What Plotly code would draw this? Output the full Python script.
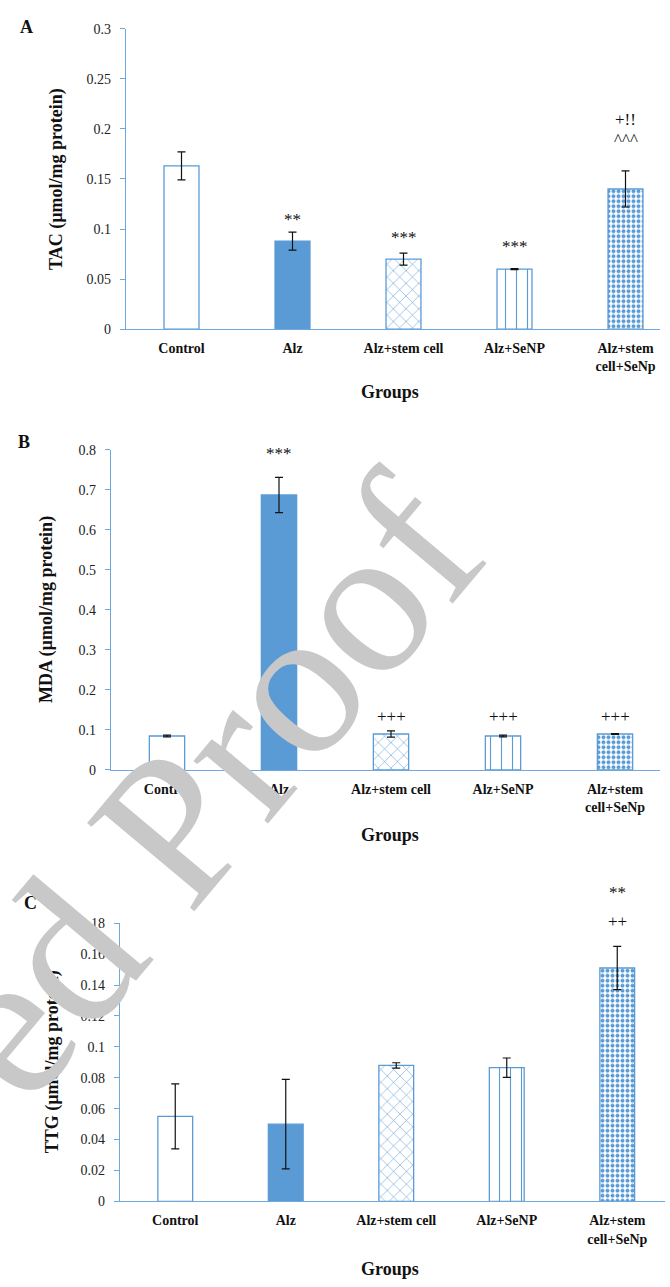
import plotly.graph_objects as go

# ---------------- data ----------------
categories = ["Control", "Alz", "Alz+stem cell", "Alz+SeNP", "Alz+stem<br>cell+SeNp"]

tac_values = [0.163, 0.088, 0.070, 0.060, 0.140]
tac_errors = [0.014, 0.009, 0.006, 0.0005, 0.018]

mda_values = [0.085, 0.687, 0.090, 0.085, 0.090]
mda_errors = [0.002, 0.044, 0.008, 0.002, 0.001]

ttg_values = [0.055, 0.050, 0.088, 0.0865, 0.151]
ttg_errors = [0.021, 0.029, 0.0017, 0.0063, 0.014]

tac_ticks = [0, 0.05, 0.1, 0.15, 0.2, 0.25, 0.3]
mda_ticks = [0, 0.1, 0.2, 0.3, 0.4, 0.5, 0.6, 0.7, 0.8]
ttg_ticks = [0, 0.02, 0.04, 0.06, 0.08, 0.1, 0.12, 0.14, 0.16, 0.18]

# significance marks: (category index, text)
tac_sig = [(1, "**"), (2, "***"), (3, "***"), (4, "^^^"), (4, "+!!")]
mda_sig = [(1, "***"), (2, "+++"), (3, "+++"), (4, "+++")]
ttg_sig = [(4, "++"), (4, "**")]

# ---------------- style ----------------
W, H = 670, 1287
BLUE = "#5B9BD5"
AXIS = "#6FA8DC"
SERIF = "Liberation Serif"
bar_styles = [
    dict(color="white", shape="", size=8, solidity=0.2),
    dict(color=BLUE, shape="", size=8, solidity=0.2),
    dict(color="white", shape="x", size=9, solidity=0.12),
    dict(color="white", shape="|", size=11, solidity=0.1),
    dict(color="white", shape=".", size=5, solidity=0.5),
]

# pixel layout per panel: (x_left, x_right, y_top, y_bottom, cat spacing)
panels = [
    dict(vals=tac_values, errs=tac_errors, ticks=tac_ticks, sig=tac_sig,
         sig_shift=[13, 16, 22, 31, 51], px=(126, 660, 22, 326, 111),
         title="TAC (µmol/mg protein)", title_x=57, letter="A", letter_xy=(26, 20),
         groups_y=390),
    dict(vals=mda_values, errs=mda_errors, ticks=mda_ticks, sig=mda_sig,
         sig_shift=[24, 14, 19, 17], px=(111, 660, 448, 772, 112),
         title="MDA (µmol/mg protein)", title_x=47, letter="B", letter_xy=(24, 440),
         groups_y=838),
    dict(vals=ttg_values, errs=ttg_errors, ticks=ttg_ticks, sig=ttg_sig,
         sig_shift=[25, 54], px=(120, 665, 927, 1208.5, 110.5),
         title="TTG (µmol/mg protein)", title_x=52, letter="C", letter_xy=(30, 907),
         groups_y=1277),
]

fig = go.Figure()
annotations = []
layout_axes = {}

for i, p in enumerate(panels):
    n = "" if i == 0 else str(i + 1)
    xl, xr, yt, yb, sp = p["px"]
    xmax = (xr - xl) / sp - 0.5
    for ci, (v, e, st) in enumerate(zip(p["vals"], p["errs"], bar_styles)):
        pat = dict(shape=st["shape"], fgcolor=BLUE, bgcolor="white",
                   size=st["size"], solidity=st["solidity"], fillmode="replace")
        fig.add_trace(go.Bar(
            x=[ci], y=[v],
            xaxis="x" + n, yaxis="y" + n, width=0.315,
            marker=dict(color=st["color"], line=dict(color=BLUE, width=1.3),
                        pattern=pat),
            error_y=dict(type="data", array=[e], visible=True, color="#111111",
                         thickness=1.2, width=4),
            showlegend=False, hoverinfo="skip",
        ))
    ymax = p["ticks"][-1]
    layout_axes["xaxis" + n] = dict(
        domain=[xl / W, xr / W], range=[-0.5, xmax], anchor="y" + n,
        tickvals=list(range(len(categories))), ticktext=categories,
        showline=True, linecolor=AXIS, linewidth=1.3, ticks="", showgrid=False,
        zeroline=False, ticklabelstandoff=6,
        tickfont=dict(family=SERIF, size=14, color="#111111", weight="bold"),
    )
    layout_axes["yaxis" + n] = dict(
        domain=[1 - yb / H, 1 - yt / H], range=[0, ymax], anchor="x" + n,
        tickvals=p["ticks"], ticktext=[f"{t:g}" for t in p["ticks"]],
        showline=True, linecolor=AXIS, linewidth=1.3, ticks="outside", ticklen=5,
        tickcolor=AXIS, showgrid=False, zeroline=False, ticklabelstandoff=6,
        tickfont=dict(family=SERIF, size=14, color="#222222"),
    )
    for (ci, txt), sh in zip(p["sig"], p["sig_shift"]):
        annotations.append(dict(
            x=ci, y=p["vals"][ci] + p["errs"][ci], xref="x" + n, yref="y" + n,
            text=txt, showarrow=False, yshift=sh, xanchor="center", yanchor="middle",
            font=dict(family=SERIF, size=17, color="#111111"),
        ))
    annotations.append(dict(
        x=p["title_x"] / W, y=1 - ((yt + yb) / 2) / H, xref="paper", yref="paper",
        text="<b>" + p["title"] + "</b>", textangle=-90, showarrow=False,
        xanchor="center", yanchor="middle",
        font=dict(family=SERIF, size=18, color="#111111"),
    ))
    lx, ly = p["letter_xy"]
    annotations.append(dict(
        x=lx / W, y=1 - ly / H, xref="paper", yref="paper",
        text="<b>" + p["letter"] + "</b>", showarrow=False,
        xanchor="center", yanchor="middle",
        font=dict(family=SERIF, size=18, color="#111111"),
    ))
    annotations.append(dict(
        x=390 / W, y=1 - p["groups_y"] / H, xref="paper", yref="paper",
        text="<b>Groups</b>", showarrow=False, xanchor="center", yanchor="middle",
        font=dict(family=SERIF, size=18, color="#111111"),
    ))

# watermark
annotations.append(dict(
    x=205 / W, y=1 - 790 / H, xref="paper", yref="paper",
    text="ed Proof", textangle=-50, showarrow=False,
    xanchor="center", yanchor="middle",
    font=dict(family=SERIF, size=212, color="#C8C8C8"),
))

fig.update_layout(
    width=W, height=H, margin=dict(l=0, r=0, t=0, b=0),
    paper_bgcolor="white", plot_bgcolor="white",
    annotations=annotations, **layout_axes,
)

fig.write_html(
    "out.html",
    config={"displayModeBar": False},
    post_script="document.body.style.margin='0';"
                "document.documentElement.style.overflow='hidden';",
)
